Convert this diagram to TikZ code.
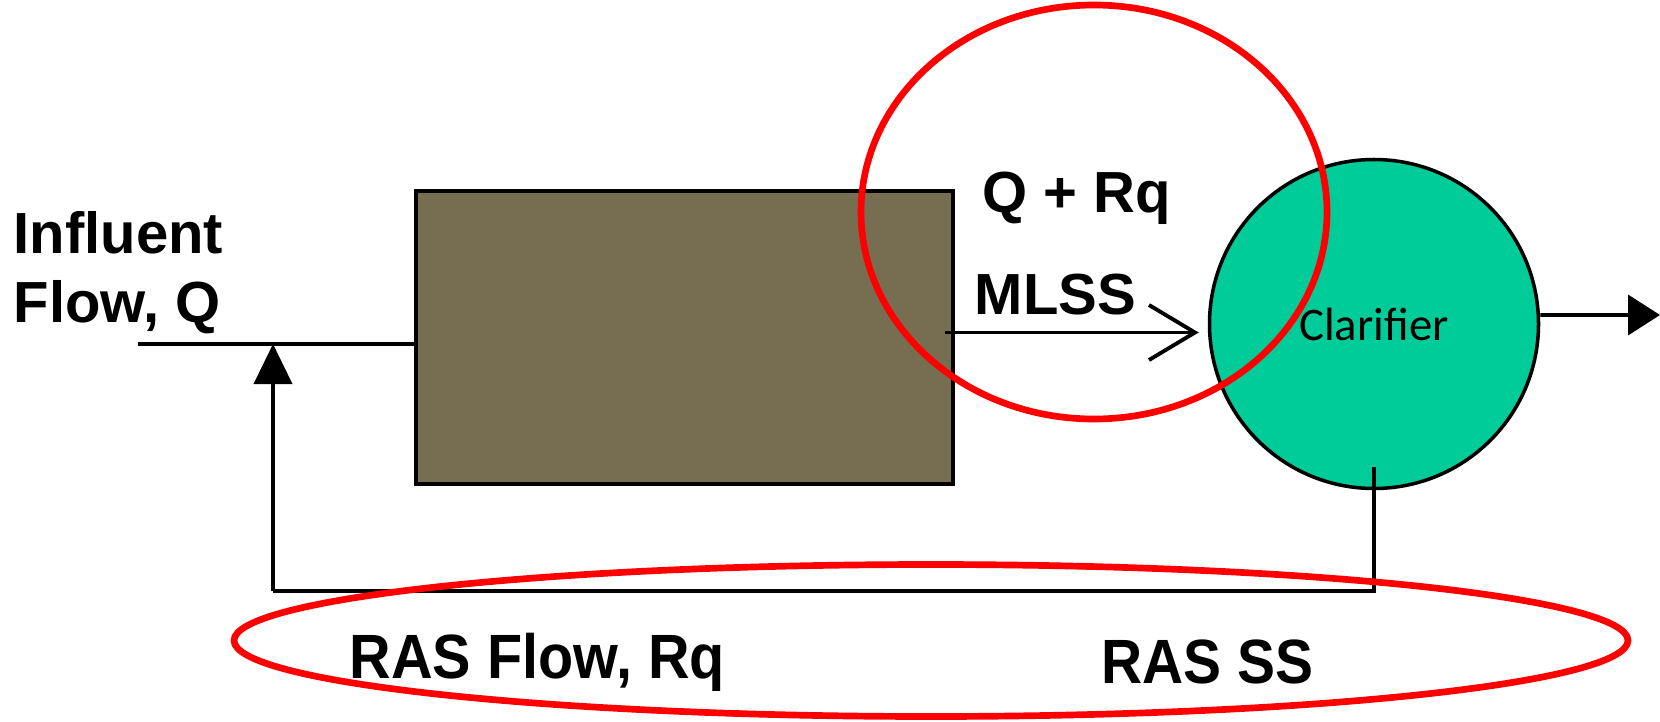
\documentclass[tikz,border=0pt]{standalone}
\usepackage{fontspec}
\setmainfont{Liberation Sans}
\newfontfamily\calfont{Carlito}
\usetikzlibrary{arrows.meta}
\definecolor{sludge}{HTML}{776E52}
\definecolor{clargreen}{HTML}{00CC99}
\begin{document}
\begin{tikzpicture}[
    tank/.style={rectangle, draw, line width=1.2pt, fill=sludge, minimum width=5.37cm, minimum height=2.93cm},
    clarifier/.style={circle, draw, line width=1pt, fill=clargreen, minimum size=3.29cm, inner sep=0pt, font=\calfont\fontsize{13.3}{16}\selectfont},
    flow/.style={line width=1.1pt},
    label/.style={inner sep=0pt, font=\bfseries\fontsize{16.5}{19.6}\selectfont},
    ras/.style={inner sep=0pt, anchor=base west, font=\bfseries\fontsize{17.8}{20}\selectfont},
    ring/.style={draw=red, line width=1.9pt}
]
\useasboundingbox (0,0) rectangle (16.6,7.21);
\node[tank] (basin) at (6.845, 3.835) {};
\node[clarifier] (clar) at (13.74, 3.97) {\raisebox{-0.6mm}{Clarifier}};
\coordinate (feed) at (1.38, 3.77);
\coordinate (ret) at (2.73, 1.30);
\coordinate (out) at (16.6, 4.06);
\node[label, anchor=north west, align=left] (infl) at (0.13, 5.10) {Influent\\Flow, Q};
\node[label, anchor=base west] (qrq) at (9.82, 5.09) {Q + Rq};
\node[label, anchor=base west] (mlss) at (9.74, 4.07) {MLSS};
\node[ras] (rasflow) at (3.49, 0.43) {\scalebox{0.92}[1]{RAS Flow, Rq}};
\node[ras] (rasss) at (11.01, 0.38) {\scalebox{0.91}[1]{RAS SS}};
\draw[flow] (feed) -- (feed -| basin.west);
\draw[flow, -{Straight Barb[length=4.6mm, width=5.5mm]}, shorten >=0.9mm] ([xshift=-1mm, yshift=0.5mm]basin.east) -- ([yshift=0.5mm]basin.east -| clar.west);
\draw[flow, -{Triangle[length=3.2mm, width=4mm]}] ([yshift=0.9mm]clar.east) -- (out);
\draw[flow] ([yshift=2.3mm]clar.south) |- (ret);
\draw[flow, -{Triangle[length=4mm, width=3.8mm]}] (ret) -- (ret |- feed);
% highlighted regions
\draw[ring] (10.94, 5.09) ellipse (2.33 and 2.07);
\draw[ring] (9.31, 0.805) ellipse (6.97 and 0.76);
\end{tikzpicture}
\end{document}
